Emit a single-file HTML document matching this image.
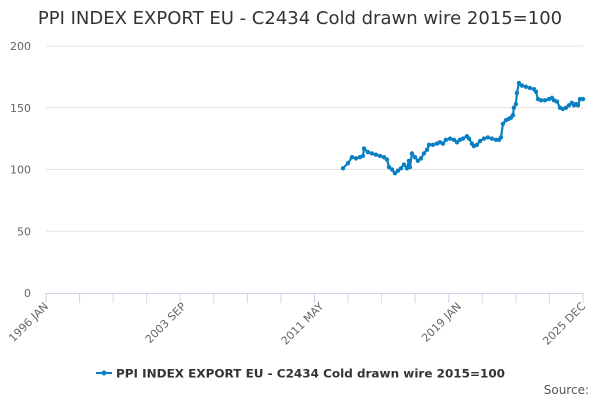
<!DOCTYPE html>
<html><head><meta charset="utf-8"><style>
body{margin:0;background:#fff;font-family:"DejaVu Sans",sans-serif}
svg text{font-family:"DejaVu Sans",sans-serif}
</style></head><body>
<svg id="chart" width="600" height="400">
<text x="300" y="24" text-anchor="middle" font-size="18" fill="#333">PPI INDEX EXPORT EU - C2434 Cold drawn wire 2015=100</text>
<g id="grid"></g><g id="xaxis"></g><g id="series"></g>
<g>
<line x1="96" y1="373" x2="112" y2="373" stroke="#0a7fc2" stroke-width="2"/>
<circle cx="104" cy="373" r="2.5" fill="#0a7fc2"/>
<text x="116" y="377.5" font-size="11.5" font-weight="bold" fill="#333" textLength="389" lengthAdjust="spacingAndGlyphs">PPI INDEX EXPORT EU - C2434 Cold drawn wire 2015=100</text>
</g>
<text x="589" y="394" text-anchor="end" font-size="12" fill="#555">Source:</text>
</svg>
<script>
const yTicks=[0,50,100,150,200];
const xTickLabels=["1996 JAN","2003 SEP","2011 MAY","2019 JAN","2025 DEC"];
const xTickTimes=[0,7.67,15.33,23.0,29.92];
const times=[16.55,16.82,17.05,17.27,17.49,17.66,17.72,17.94,18.16,18.38,18.61,18.83,19.00,19.11,19.28,19.44,19.61,19.78,19.94,20.11,20.22,20.28,20.39,20.56,20.72,20.89,21.06,21.23,21.34,21.56,21.78,21.95,22.12,22.28,22.51,22.73,22.90,23.06,23.23,23.45,23.57,23.73,23.84,24.01,24.18,24.40,24.62,24.85,25.07,25.24,25.35,25.46,25.63,25.79,25.91,26.02,26.07,26.18,26.24,26.35,26.52,26.74,26.96,27.19,27.30,27.41,27.58,27.80,28.02,28.19,28.30,28.47,28.64,28.80,28.97,29.14,29.30,29.42,29.53,29.64,29.75,29.92];
const values=[101,105,110,109,110,111,117,114,113,112,111,110,108,102,100,97,99,101,104,101,107,102,113,110,107,109,113,116,120,120,121,122,121,124,125,124,122,124,125,127,125,121,119,120,123,125,126,125,124,124,126,137,140,141,142,144,150,153,162,170,168,167,166,165,163,157,156,156,157,158,156,155,150,149,150,152,154,152,153,152,157,157];
const NS="http://www.w3.org/2000/svg";
const X0=46,X1=583,Y0=293,Y1=46,TMAX=29.92;
const xs=t=>X0+t/TMAX*(X1-X0), ys=v=>Y0-v/200*(Y0-Y1);
function mk(tag,attrs,parent){const e=document.createElementNS(NS,tag);for(const k in attrs)e.setAttribute(k,attrs[k]);parent.appendChild(e);return e;}
const grid=document.getElementById('grid');
yTicks.forEach(v=>{
  if(v>0){const l=mk('line',{x1:X0,x2:X1,y1:ys(v),y2:ys(v),stroke:'#e3e3e3'},grid);
  
  }
  const t=mk('text',{x:31,y:ys(v)+4,'text-anchor':'end','font-size':11,fill:'#666'},grid);t.textContent=v;
  
  
});
const xa=document.getElementById('xaxis');
const ax=mk('line',{x1:X0,x2:X1,y1:Y0+0.5,y2:Y0+0.5,stroke:'#ccd6eb'},xa);


for(let i=0;i<=16;i++){const x=X0+i*(X1-X0)/16;mk('line',{x1:x,x2:x,y1:Y0,y2:Y0+10,stroke:'#ccd6eb'},xa);}
xTickLabels.forEach((s,i)=>{const x=xs(xTickTimes[i]);
  const t=mk('text',{x:x+3,y:Y0+14,'text-anchor':'end','font-size':11,fill:'#666',transform:`rotate(-45 ${x+3} ${Y0+14})`},xa);t.textContent=s;
  
  });
const sg=document.getElementById('series');
const p=mk('polyline',{points:times.map((t,i)=>xs(t)+','+ys(values[i])).join(' '),fill:'none',stroke:'#0a7fc2','stroke-width':2.2},sg);


times.forEach((t,i)=>{const c=mk('circle',{cx:xs(t),cy:ys(values[i]),r:2.2,fill:'#0a7fc2'},sg);
  
  });
</script>
</body></html>
